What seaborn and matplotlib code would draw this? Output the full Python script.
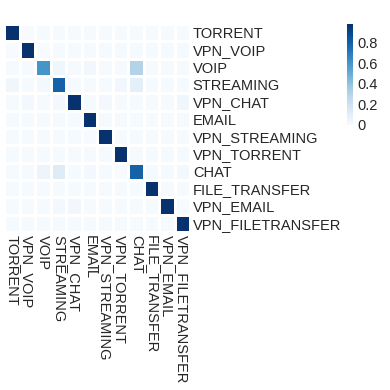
import numpy as np
import pandas as pd
import matplotlib
matplotlib.use("Agg")
import matplotlib.pyplot as plt
import seaborn as sns

# class labels (rows = true, columns = predicted)
labels = ["TORRENT", "VPN_VOIP", "VOIP", "STREAMING", "VPN_CHAT", "EMAIL",
          "VPN_STREAMING", "VPN_TORRENT", "CHAT", "FILE_TRANSFER",
          "VPN_EMAIL", "VPN_FILETRANSFER"]

# normalised confusion matrix
row_torrent = [0.97, 0.00, 0.01, 0.01, 0.01, 0.01, 0.01, 0.01, 0.01, 0.01, 0.01, 0.01]
row_vpn_voip = [0.00, 0.97, 0.00, 0.01, 0.01, 0.01, 0.01, 0.01, 0.01, 0.01, 0.01, 0.01]
row_voip = [0.01, 0.01, 0.60, 0.04, 0.01, 0.03, 0.01, 0.01, 0.30, 0.01, 0.01, 0.01]
row_streaming = [0.04, 0.01, 0.02, 0.79, 0.01, 0.01, 0.01, 0.03, 0.09, 0.01, 0.01, 0.01]
row_vpn_chat = [0.01, 0.02, 0.01, 0.02, 0.97, 0.01, 0.02, 0.01, 0.01, 0.01, 0.01, 0.04]
row_email = [0.01, 0.01, 0.01, 0.01, 0.01, 0.97, 0.01, 0.01, 0.01, 0.01, 0.01, 0.01]
row_vpn_streaming = [0.01, 0.01, 0.01, 0.01, 0.01, 0.00, 0.97, 0.01, 0.01, 0.01, 0.01, 0.01]
row_vpn_torrent = [0.01, 0.01, 0.01, 0.01, 0.01, 0.01, 0.01, 0.97, 0.01, 0.01, 0.01, 0.01]
row_chat = [0.01, 0.01, 0.05, 0.12, 0.01, 0.02, 0.01, 0.00, 0.79, 0.01, 0.01, 0.02]
row_file_transfer = [0.01, 0.01, 0.01, 0.01, 0.01, 0.01, 0.01, 0.01, 0.01, 0.97, 0.01, 0.01]
row_vpn_email = [0.01, 0.01, 0.01, 0.02, 0.03, 0.01, 0.01, 0.01, 0.01, 0.01, 0.97, 0.00]
row_vpn_filetransfer = [0.01, 0.01, 0.01, 0.01, 0.01, 0.01, 0.01, 0.01, 0.01, 0.01, 0.01, 0.97]

df = pd.DataFrame([row_torrent, row_vpn_voip, row_voip, row_streaming, row_vpn_chat,
                   row_email, row_vpn_streaming, row_vpn_torrent, row_chat,
                   row_file_transfer, row_vpn_email, row_vpn_filetransfer],
                  index=labels, columns=labels)

sns.set_style("white")
plt.rcParams['font.family'] = ['Liberation Sans', 'DejaVu Sans']

fig = plt.figure(figsize=(3.9, 3.9), dpi=100)
ax = fig.add_axes([4/390, 1 - 232/390, 186/390, 208/390])
cax = fig.add_axes([347/390, 1 - 125/390, 6/390, 101/390])

sns.heatmap(df, ax=ax, cbar_ax=cax, cmap="Blues", vmin=0, vmax=0.98,
            linewidths=0.8, linecolor="white", square=False)

# labels on the right and bottom
ax.yaxis.tick_right()
ax.set_yticks(np.arange(len(labels)) + 0.5)
ax.set_yticklabels(labels, rotation=0, fontsize=10.5)
ax.set_xticks(np.arange(len(labels)) + 0.5)
ax.set_xticklabels(labels, rotation=-90, fontsize=10.5, va="top", ha="center")
ax.tick_params(length=0, pad=2)
ax.set_xlabel("")
ax.set_ylabel("")

# colorbar styling
cbar = ax.collections[0].colorbar
cbar.set_ticks([0, 0.2, 0.4, 0.6, 0.8])
cbar.set_ticklabels(["0", "0.2", "0.4", "0.6", "0.8"])
cbar.outline.set_visible(False)
cax.tick_params(length=0, labelsize=10.5, pad=3)

plt.savefig("out.png", dpi=100)
